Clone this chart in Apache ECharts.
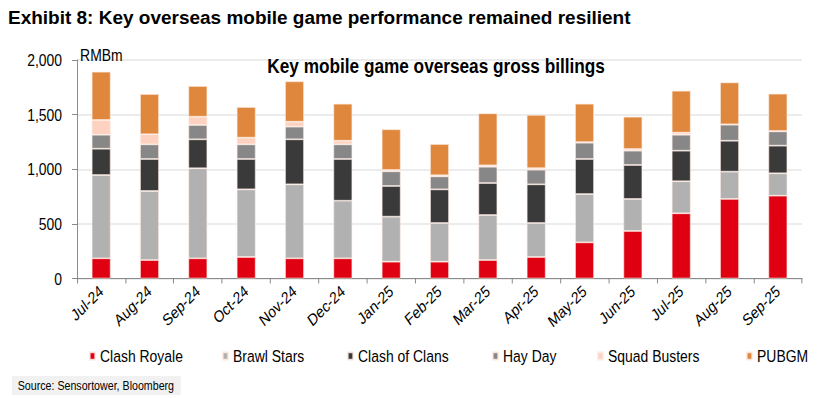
<!DOCTYPE html>
<html>
<head>
<meta charset="utf-8">
<script src="https://cdn.jsdelivr.net/npm/echarts@6/dist/echarts.min.js"></script>
<style>
  html, body {margin: 0; padding: 0; background: #fff; overflow: hidden;}
  /* the source uses Arial Narrow; none installed, so draw wide and squeeze */
  #chart {width: 1007px; height: 398px; transform: scaleX(0.8203); transform-origin: 0 0;}
</style>
</head>
<body>
<div id="chart"></div>
<script>
  const months = ['Jul-24', 'Aug-24', 'Sep-24', 'Oct-24', 'Nov-24', 'Dec-24', 'Jan-25', 'Feb-25',
    'Mar-25', 'Apr-25', 'May-25', 'Jun-25', 'Jul-25', 'Aug-25', 'Sep-25'];
  const clashRoyale = [185, 169, 185, 197, 185, 185, 154, 154, 169, 197, 331, 435, 597, 728, 758];
  const brawlStars = [762, 632, 824, 619, 677, 527, 412, 354, 412, 311, 442, 293, 293, 250, 205];
  const clashOfClans = [241, 293, 265, 278, 412, 382, 281, 308, 293, 354, 321, 311, 280, 283, 253];
  const hayDay = [128, 134, 131, 134, 116, 134, 134, 119, 149, 134, 149, 131, 146, 147, 131];
  const squadBusters = [135, 92, 76, 61, 45, 33, 12, 10, 13, 13, 5, 15, 19, 3, 3];
  const pubgm = [442, 369, 281, 281, 370, 339, 373, 286, 476, 488, 352, 296, 384, 384, 342];

  const SQ = 0.8203; // horizontal squeeze applied by css
  const sx = v => v / SQ;
  const font = '"Liberation Sans", Arial, sans-serif';

  const seriesDefs = [
    {name: 'Clash Royale', data: clashRoyale, color: '#DF0011'},
    {name: 'Brawl Stars', data: brawlStars, color: '#B1B1B1'},
    {name: 'Clash of Clans', data: clashOfClans, color: '#3A3A3A'},
    {name: 'Hay Day', data: hayDay, color: '#878787'},
    {name: 'Squad Busters', data: squadBusters, color: '#FDD2C0'},
    {name: 'PUBGM', data: pubgm, color: '#DE873D'}
  ];
  const legendLeft = [89, 222, 347, 492, 597, 746];

  const chart = echarts.init(document.getElementById('chart'), null, {renderer: 'svg'});
  chart.setOption({
    animation: false,
    title: [
      {
        text: 'Key mobile game overseas gross billings',
        left: sx(432), top: 50, textAlign: 'center',
        textStyle: {fontFamily: font, fontSize: 21, fontWeight: 'bold', color: '#000'}
      },
      {
        text: 'RMBm',
        left: sx(76), top: 41,
        textStyle: {fontFamily: font, fontSize: 17, fontWeight: 'normal', color: '#000'}
      },
      {
        text: 'Source: Sensortower, Bloomberg',
        left: sx(12), top: 376,
        backgroundColor: '#F1F1F1', padding: [3, 8, 3, 7],
        textStyle: {fontFamily: font, fontSize: 13, fontWeight: 'normal', color: '#000'}
      }
    ],
    graphic: [{
      type: 'text',
      x: sx(8), y: 8,
      scaleX: 1 / SQ,
      style: {
        text: 'Exhibit 8: Key overseas mobile game performance remained resilient',
        font: 'bold 19px ' + font,
        fill: '#000'
      }
    }],
    legend: seriesDefs.map((s, i) => ({
      data: [s.name],
      left: sx(legendLeft[i]), top: 347.5,
      padding: 0,
      itemWidth: sx(5.3), itemHeight: 7.3, itemGap: 0,
      icon: 'rect',
      textStyle: {fontFamily: font, fontSize: 17, color: '#000', padding: [0, 0, 0, 1]}
    })),
    grid: {left: sx(77), right: sx(24), top: 60, bottom: 119.5},
    xAxis: {
      type: 'category',
      data: months,
      axisLine: {lineStyle: {color: '#7F7F7F', width: 1}},
      axisTick: {show: true, length: 5, lineStyle: {color: '#7F7F7F'}},
      axisLabel: {
        rotate: 39.4, margin: 10, color: '#000',
        fontFamily: font, fontSize: 16.5
      }
    },
    yAxis: {
      type: 'value',
      min: 0, max: 2000, interval: 500,
      axisLine: {show: true, lineStyle: {color: '#7F7F7F'}},
      axisTick: {show: true, length: sx(5), lineStyle: {color: '#7F7F7F'}},
      splitLine: {lineStyle: {color: '#E6E6E6', width: 1.6}},
      axisLabel: {
        color: '#000', fontFamily: font, fontSize: 17, margin: sx(15),
        formatter: v => v.toLocaleString('en-US')
      }
    },
    series: seriesDefs.map(s => ({
      name: s.name,
      type: 'bar',
      stack: 'total',
      barWidth: '39%',
      data: s.data,
      itemStyle: {color: s.color, borderColor: 'rgba(255,236,228,0.85)', borderWidth: 0.8}
    }))
  });
</script>
</body>
</html>
